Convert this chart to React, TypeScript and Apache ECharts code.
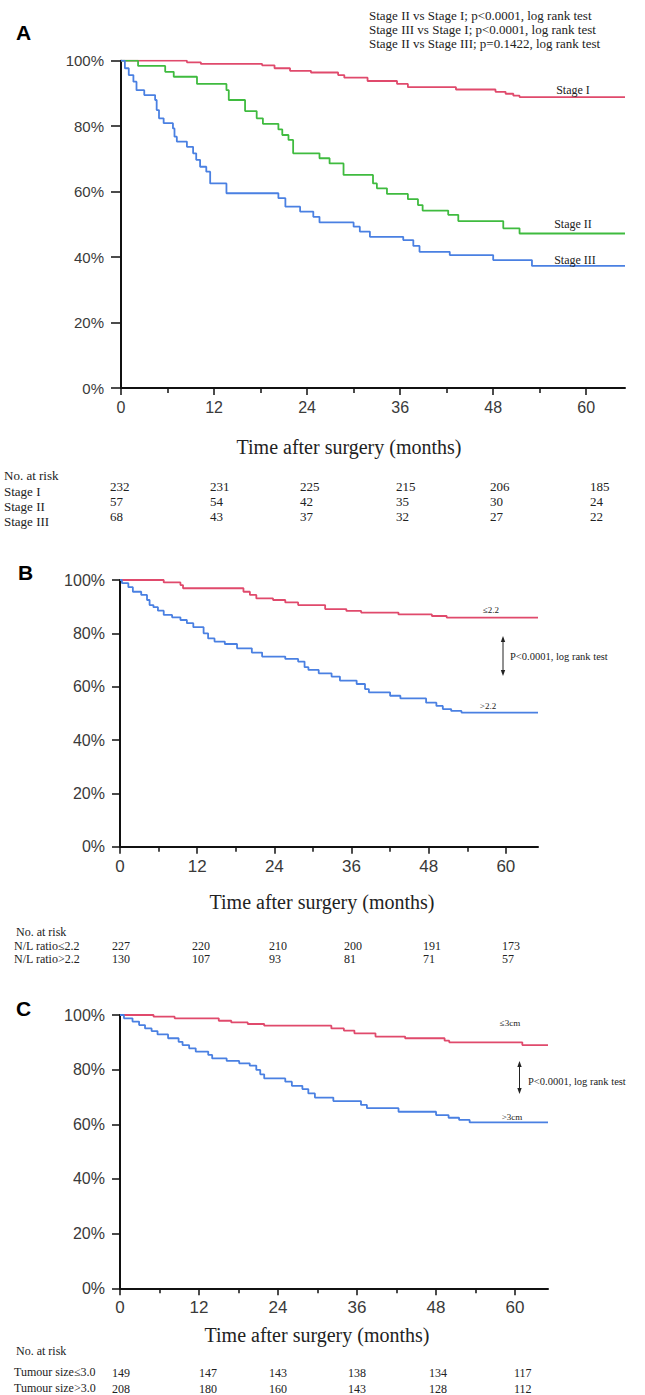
import React, { useEffect, useRef } from "react";
import * as echarts from "echarts";

// ---------- Data ----------
const monthTicks = [0, 12, 24, 36, 48, 60];
const minorTicks = [6, 18, 30, 42, 54];
const pctTicks = [0, 20, 40, 60, 80, 100];

// Panel A – by stage
const stageI_t = [0, 8.5, 10.3, 18.2, 19.8, 21.8, 24.5, 28.0, 28.8, 31.8, 35.6, 37.0, 43.2, 48.3, 49.6, 50.6, 51.4, 65];
const stageI_s = [100, 99.5, 99.0, 98.6, 97.7, 96.9, 96.4, 95.6, 94.8, 93.8, 92.9, 91.9, 91.2, 90.5, 89.9, 89.3, 88.9, 88.9];
const stageII_t = [0, 2.2, 5.7, 6.8, 9.8, 13.6, 13.9, 16.0, 17.5, 18.3, 20.3, 20.8, 21.6, 22.2, 25.6, 26.9, 28.7, 32.5, 33.0, 34.3, 37.0, 38.3, 38.9, 42.2, 43.5, 49.3, 51.4, 65];
const stageII_s = [100, 98.4, 96.6, 95.1, 92.9, 91.0, 88.0, 84.6, 82.4, 80.7, 79.0, 77.3, 75.8, 71.7, 70.2, 68.6, 65.1, 62.5, 61.0, 59.3, 57.7, 55.9, 54.2, 52.9, 51.0, 48.8, 47.2, 47.2];
const stageIII_t = [0, 0.5, 1.0, 1.6, 2.0, 3.0, 4.4, 4.6, 4.9, 5.5, 6.7, 6.9, 7.2, 8.5, 9.3, 9.7, 10.2, 11.0, 11.5, 13.6, 20.3, 21.2, 23.1, 24.8, 25.6, 30.0, 30.8, 32.1, 36.4, 37.7, 38.5, 42.4, 48.0, 53.0, 65];
const stageIII_s = [100, 97.7, 95.6, 93.6, 91.0, 89.5, 88.0, 84.9, 82.4, 80.9, 79.3, 76.8, 75.3, 73.7, 71.7, 69.7, 67.6, 66.1, 62.5, 59.5, 58.0, 55.4, 53.9, 52.3, 50.6, 49.3, 47.8, 46.2, 45.2, 43.4, 41.6, 40.6, 39.1, 37.3, 37.3];

// Panel B – N/L ratio
const nlLow_t = [0, 6.8, 9.4, 9.8, 19.2, 20.2, 21.2, 23.8, 25.7, 27.7, 31.9, 35.2, 37.5, 43.3, 48.5, 50.8, 65];
const nlLow_s = [100, 99.1, 98.1, 96.9, 95.6, 94.4, 93.1, 92.5, 91.6, 90.6, 89.1, 88.4, 87.8, 87.1, 86.5, 85.9, 85.9];
const nlHigh_t = [0, 0.3, 1.3, 2.0, 3.3, 4.2, 4.6, 5.2, 5.9, 6.8, 8.1, 9.4, 10.4, 11.4, 13.0, 13.7, 14.7, 16.3, 18.2, 20.5, 22.1, 25.7, 27.7, 28.7, 29.3, 30.9, 32.9, 34.2, 36.8, 38.1, 38.7, 42.0, 43.6, 47.6, 49.2, 50.2, 51.5, 53.1, 65];
const nlHigh_s = [100, 98.8, 97.3, 95.6, 94.4, 92.5, 90.6, 89.8, 88.5, 86.9, 86.0, 85.0, 83.8, 82.3, 80.0, 78.1, 76.9, 76.0, 74.4, 72.8, 71.3, 70.4, 69.4, 67.3, 66.3, 65.0, 63.8, 62.3, 61.0, 59.1, 57.9, 56.6, 55.6, 54.0, 52.8, 51.6, 50.9, 50.3, 50.3];

// Panel C – tumour size
const small_t = [0, 5.1, 8.3, 15.0, 16.9, 19.4, 21.9, 32.1, 34.0, 35.6, 38.8, 43.3, 49.3, 50.0, 61.1, 65];
const small_s = [100, 99.4, 98.8, 97.9, 97.3, 96.7, 96.1, 95.1, 94.3, 93.3, 92.1, 91.5, 90.6, 90.0, 89.0, 89.0];
const large_t = [0, 0.6, 1.9, 2.9, 3.8, 4.8, 5.7, 7.3, 8.9, 9.5, 10.5, 11.5, 13.4, 14.0, 16.2, 18.1, 19.7, 20.7, 21.3, 21.9, 25.1, 26.1, 27.7, 28.6, 29.6, 32.4, 36.6, 37.5, 42.3, 48.0, 49.9, 51.5, 53.1, 65];
const large_s = [100, 98.8, 97.6, 96.3, 95.1, 94.1, 92.9, 91.5, 90.2, 89.0, 87.8, 86.6, 85.4, 84.1, 83.2, 82.3, 81.5, 79.9, 78.3, 76.8, 75.6, 74.1, 72.9, 71.3, 69.8, 68.5, 67.1, 65.9, 64.6, 63.4, 62.4, 61.6, 60.7, 60.7];

// Numbers at risk
const riskA_labels = ["Stage I", "Stage II", "Stage III"];
const riskA_I = [232, 231, 225, 215, 206, 185];
const riskA_II = [57, 54, 42, 35, 30, 24];
const riskA_III = [68, 43, 37, 32, 27, 22];
const riskB_labels = ["N/L ratio≤2.2", "N/L ratio>2.2"];
const riskB_low = [227, 220, 210, 200, 191, 173];
const riskB_high = [130, 107, 93, 81, 71, 57];
const riskC_labels = ["Tumour size≤3.0", "Tumour size>3.0"];
const riskC_small = [149, 147, 143, 138, 134, 117];
const riskC_large = [208, 180, 160, 143, 128, 112];

const pvalA = [
  "Stage II vs Stage I; p<0.0001, log rank test",
  "Stage III vs Stage I; p<0.0001, log rank test",
  "Stage II vs Stage III; p=0.1422, log rank test",
];

// ---------- Styling ----------
const RED = "#e04a6c";
const GREEN = "#3fbb3f";
const BLUE = "#4a80e2";
const SERIF = "'Liberation Serif', 'DejaVu Serif', serif";
const SANS = "'Liberation Sans', Arial, sans-serif";

const zip = (t: number[], s: number[]) => t.map((v, i) => [v, s[i]]);

export default function App() {
  const ref = useRef<HTMLDivElement>(null);

  useEffect(() => {
    if (!ref.current) return;
    const chart = echarts.init(ref.current, undefined, { renderer: "svg" });

    const grids = [
      { left: 121, top: 60.7, width: 504, height: 327.3 },
      { left: 120, top: 580, width: 418, height: 266.7 },
      { left: 120, top: 1015, width: 428, height: 273.3 },
    ];

    const xAxes: any[] = [];
    const yAxes: any[] = [];
    grids.forEach((g, i) => {
      const fs = i === 0 ? 16 : 17;
      xAxes.push({
        type: "value",
        gridIndex: i,
        position: "bottom",
        min: 0,
        max: 65,
        interval: 12,
        axisLine: { show: true, onZero: false, lineStyle: { color: "#111", width: 2 } },
        axisTick: { show: true, customValues: monthTicks, length: 7, lineStyle: { color: "#111", width: 1.5 } },
        axisLabel: { show: true, customValues: monthTicks, fontSize: fs, color: "#3a3a3a", fontFamily: SANS, margin: 11 },
        splitLine: { show: false },
      });
      xAxes.push({
        type: "value",
        gridIndex: i,
        position: "bottom",
        offset: 0,
        min: 0,
        max: 65,
        interval: 12,
        axisLine: { show: false, onZero: false },
        axisTick: { show: true, customValues: minorTicks, length: 5, lineStyle: { color: "#111", width: 1.5 } },
        axisLabel: { show: false },
        splitLine: { show: false },
      });
      yAxes.push({
        type: "value",
        gridIndex: i,
        position: "left",
        min: 0,
        max: 100,
        interval: 20,
        axisLine: { show: true, onZero: false, lineStyle: { color: "#111", width: 2 } },
        axisTick: { show: true, customValues: pctTicks, length: i === 0 ? 10 : 8, lineStyle: { color: "#111", width: 1.5 } },
        axisLabel: { show: true, formatter: "{value}%", fontSize: i === 0 ? 15 : 16, color: "#3a3a3a", fontFamily: SANS, margin: i === 0 ? 17 : 15 },
        splitLine: { show: false },
      });
    });

    const line = (name: string, data: number[][], color: string, xi: number, yi: number) => ({
      type: "line",
      name,
      data,
      step: "end",
      xAxisIndex: xi,
      yAxisIndex: yi,
      symbol: "none",
      lineStyle: { color, width: 1.8 },
      itemStyle: { color },
      z: 3,
    });

    const series = [
      line("Stage I", zip(stageI_t, stageI_s), RED, 0, 0),
      line("Stage II", zip(stageII_t, stageII_s), GREEN, 0, 0),
      line("Stage III", zip(stageIII_t, stageIII_s), BLUE, 0, 0),
      line("≤2.2", zip(nlLow_t, nlLow_s), RED, 2, 1),
      line(">2.2", zip(nlHigh_t, nlHigh_s), BLUE, 2, 1),
      line("≤3cm", zip(small_t, small_s), RED, 4, 2),
      line(">3cm", zip(large_t, large_s), BLUE, 4, 2),
    ];

    const txt = (x: number, y: number, text: string, fontSize: number, opts: any = {}) => ({
      type: "text",
      x,
      y,
      style: {
        text,
        fontSize,
        fontFamily: opts.fontFamily || SERIF,
        fontWeight: opts.fontWeight || "normal",
        fill: opts.fill || "#222",
        align: opts.align || "left",
        verticalAlign: "middle",
      },
      z: 10,
    });

    const arrow = (x: number, y1: number, y2: number) => [
      { type: "line", shape: { x1: x, y1: y1 + 4, x2: x, y2: y2 - 4 }, style: { stroke: "#222", lineWidth: 1 }, z: 10 },
      { type: "polygon", shape: { points: [[x - 2.2, y1 + 6], [x + 2.2, y1 + 6], [x, y1]] }, style: { fill: "#222" }, z: 10 },
      { type: "polygon", shape: { points: [[x - 2.2, y2 - 6], [x + 2.2, y2 - 6], [x, y2]] }, style: { fill: "#222" }, z: 10 },
    ];

    const graphics: any[] = [];
    // Panel letters
    graphics.push(txt(16, 32, "A", 21, { fontFamily: SANS, fontWeight: "bold", fill: "#000" }));
    graphics.push(txt(18, 572, "B", 21, { fontFamily: SANS, fontWeight: "bold", fill: "#000" }));
    graphics.push(txt(16, 1008, "C", 21, { fontFamily: SANS, fontWeight: "bold", fill: "#000" }));

    // Panel A annotations
    pvalA.forEach((s, i) => graphics.push(txt(369, 15 + i * 14, s, 13)));
    graphics.push(txt(573, 90, "Stage I", 12, { align: "center" }));
    graphics.push(txt(573, 224, "Stage II", 12, { align: "center" }));
    graphics.push(txt(575, 260, "Stage III", 12, { align: "center" }));

    // Axis titles
    graphics.push(txt(349, 447, "Time after surgery (months)", 20, { align: "center" }));
    graphics.push(txt(322, 902, "Time after surgery (months)", 20, { align: "center" }));
    graphics.push(txt(317, 1335, "Time after surgery (months)", 20, { align: "center" }));

    // Panel B annotations
    graphics.push(txt(491, 610, "≤2.2", 9, { align: "center" }));
    graphics.push(txt(488, 706, ">2.2", 9, { align: "center" }));
    graphics.push(...arrow(503, 636, 676));
    graphics.push(txt(510, 656, "P<0.0001, log rank test", 10.5));

    // Panel C annotations
    graphics.push(txt(510, 1023, "≤3cm", 9, { align: "center" }));
    graphics.push(txt(512, 1117, ">3cm", 9, { align: "center" }));
    graphics.push(...arrow(519.5, 1061, 1094));
    graphics.push(txt(528, 1081, "P<0.0001, log rank test", 10.5));

    // Numbers at risk – A
    const colsA = [110, 210, 300, 396, 490, 590];
    graphics.push(txt(4, 475, "No. at risk", 13));
    riskA_labels.forEach((l, i) => graphics.push(txt(4, 491 + i * 15.3, l, 13)));
    [riskA_I, riskA_II, riskA_III].forEach((row, r) =>
      row.forEach((v, c) => graphics.push(txt(colsA[c], 486.7 + r * 15, String(v), 13)))
    );

    // Numbers at risk – B
    const colsB = [112, 192, 269, 344, 423, 502];
    graphics.push(txt(16, 931.7, "No. at risk", 12));
    riskB_labels.forEach((l, i) => graphics.push(txt(14, 946 + i * 13.3, l, 12)));
    [riskB_low, riskB_high].forEach((row, r) =>
      row.forEach((v, c) => graphics.push(txt(colsB[c], 946 + r * 13.3, String(v), 12)))
    );

    // Numbers at risk – C
    const colsC = [112, 199, 269, 348, 429, 514];
    graphics.push(txt(16, 1351, "No. at risk", 12));
    riskC_labels.forEach((l, i) => graphics.push(txt(14, 1371.7 + i * 16.6, l, 12)));
    [riskC_small, riskC_large].forEach((row, r) =>
      row.forEach((v, c) => graphics.push(txt(colsC[c], 1373 + r * 16.3, String(v), 12)))
    );

    chart.setOption({
      animation: false,
      backgroundColor: "#fff",
      grid: grids,
      xAxis: xAxes,
      yAxis: yAxes,
      series,
      graphic: graphics,
    });

    return () => chart.dispose();
  }, []);

  return (
    <div
      ref={ref}
      style={{ position: "absolute", left: 0, top: 0, width: 645, height: 1395 }}
    />
  );
}
